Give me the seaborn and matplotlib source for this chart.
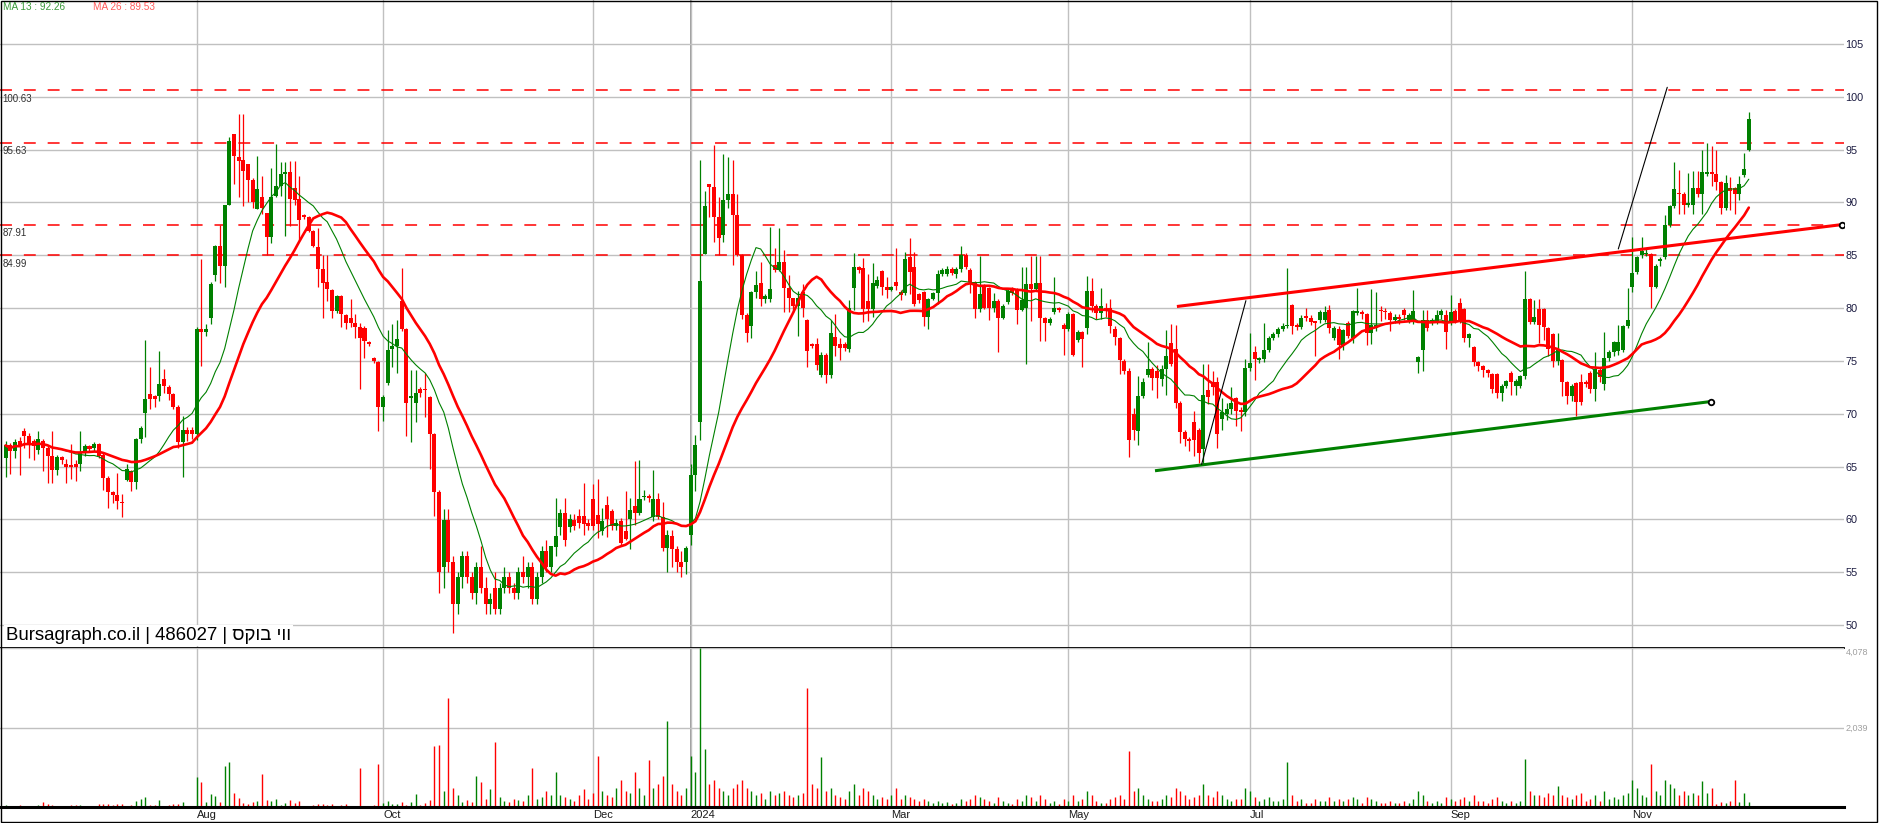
"""
    daily candles for 486027 with ma13 / ma26, trend lines and volume
"""
import matplotlib
matplotlib.use('Agg')
import matplotlib.pyplot as plt
import numpy as np
import pandas as pd
import seaborn as sns
from matplotlib.patches import Rectangle

## bar values, one entry per trading day
opens = [
    65.8, 67.0, 66.5, 67.4, 68.4, 67.9, 67.4, 66.6, 67.4, 66.8,
    66.0, 64.7, 65.9, 65.2, 65.1, 65.2, 65.2, 66.3, 66.9, 66.8,
    67.1, 66.1, 63.9, 62.6, 62.3, 61.6, 63.7, 64.6, 63.5, 67.6,
    70.1, 71.9, 71.7, 71.7, 73.3, 72.5, 71.9, 70.6, 67.3, 68.5,
    68.5, 68.1, 78.0, 77.7, 79.1, 83.1, 85.9, 84.0, 89.8, 96.5,
    94.3, 94.0, 93.6, 92.1, 89.4, 90.5, 89.0, 86.7, 90.6, 91.6,
    92.7, 92.9, 91.4, 90.3, 88.8, 88.6, 87.3, 85.8, 83.7, 82.5,
    81.7, 79.7, 81.1, 79.3, 79.1, 78.6, 78.2, 78.1, 76.8, 75.3,
    74.9, 70.6, 72.9, 76.1, 76.4, 80.7, 78.0, 71.5, 71.0, 72.3,
    72.3, 71.6, 68.1, 62.6, 55.5, 59.9, 56.0, 52.0, 54.5, 56.5,
    54.5, 53.0, 55.5, 53.5, 52.0, 53.5, 51.5, 53.5, 54.5, 53.5,
    53.0, 55.0, 54.5, 55.5, 52.5, 54.5, 57.0, 55.5, 57.4, 59.3,
    60.6, 59.3, 59.9, 60.3, 60.3, 59.7, 61.9, 60.4, 58.9, 61.4,
    60.8, 59.4, 59.8, 58.9, 60.0, 61.3, 60.6, 62.1, 62.2, 60.2,
    61.9, 60.2, 57.3, 58.4, 57.2, 56.0, 56.0, 58.5, 64.2, 69.2,
    85.1, 91.7, 91.5, 88.6, 86.9, 90.2, 90.8, 88.8, 85.0, 79.3,
    78.3, 81.5, 82.4, 80.9, 80.9, 84.1, 83.6, 84.4, 81.9, 81.0,
    80.2, 81.5, 78.9, 76.6, 76.6, 73.7, 75.6, 73.7, 77.3, 76.6,
    76.6, 76.1, 81.9, 83.9, 83.8, 80.7, 79.9, 82.1, 83.5, 82.0,
    81.7, 82.5, 81.5, 81.4, 84.8, 83.9, 81.3, 81.5, 79.2, 80.9,
    81.4, 83.2, 83.2, 83.7, 83.2, 83.7, 85.0, 83.6, 82.5, 79.9,
    82.1, 81.9, 80.0, 80.7, 79.1, 80.6, 81.8, 81.8, 79.8, 80.0,
    82.3, 81.8, 82.4, 79.1, 78.6, 79.6, 80.0, 78.4, 78.0, 79.4,
    77.0, 77.7, 78.1, 81.6, 80.2, 79.5, 80.0, 80.0, 78.0, 77.2,
    75.0, 74.0, 70.0, 68.4, 71.7, 73.7, 74.2, 74.0, 73.3, 74.2,
    76.7, 76.1, 71.0, 68.3, 67.6, 69.2, 68.5, 66.7, 72.2, 73.0,
    73.0, 69.5, 70.0, 70.4, 71.5, 70.3, 70.2, 74.3, 75.8, 75.1,
    75.2, 76.0, 77.2, 77.5, 78.0, 78.3, 80.3, 78.4, 78.2, 79.2,
    79.1, 78.7, 78.9, 78.9, 79.8, 77.2, 78.0, 76.5, 78.6, 77.2,
    79.5, 79.6, 79.4, 77.6, 78.1, 79.8, 79.7, 79.5, 78.9, 79.2,
    79.8, 78.9, 78.8, 74.9, 76.0, 78.9, 78.6, 78.7, 79.3, 79.3,
    78.6, 79.7, 80.5, 79.9, 77.2, 76.3, 74.9, 74.5, 74.1, 73.8,
    73.8, 72.0, 72.6, 73.9, 72.6, 72.6, 73.6, 80.9, 78.7, 79.9,
    79.9, 78.1, 77.5, 75.0, 75.1, 73.0, 71.7, 72.9, 73.0, 73.0,
    73.9, 72.3, 74.1, 72.8, 75.3, 75.8, 75.9, 76.0, 78.3, 82.0,
    83.4, 85.0, 85.1, 85.1, 82.0, 84.5, 84.8, 87.9, 89.7, 90.9,
    90.8, 89.8, 89.8, 91.4, 90.8, 92.7, 92.9, 92.7, 91.9, 89.5,
    91.4, 91.4, 90.8, 92.6, 95.0]
highs = [
    67.4, 67.2, 67.6, 67.8, 68.6, 68.2, 67.6, 68.4, 67.6, 67.0,
    68.4, 66.1, 66.0, 65.7, 67.1, 65.6, 68.4, 67.1, 67.0, 67.3,
    67.2, 66.3, 64.1, 62.7, 64.4, 62.4, 65.2, 64.7, 67.7, 68.8,
    77.0, 74.4, 71.8, 75.9, 74.2, 72.7, 72.0, 70.8, 69.8, 68.7,
    68.7, 78.2, 84.6, 78.5, 82.5, 86.0, 87.9, 89.8, 96.2, 96.5,
    98.4, 98.4, 93.6, 92.3, 94.4, 92.5, 89.0, 93.3, 95.5, 93.8,
    93.8, 93.9, 93.9, 92.5, 88.9, 88.7, 87.4, 87.6, 85.0, 85.0,
    81.8, 81.2, 81.2, 79.4, 80.9, 79.4, 78.6, 78.3, 76.9, 75.4,
    75.0, 71.8, 77.9, 78.5, 78.9, 83.8, 78.1, 74.1, 74.1, 72.5,
    73.9, 71.7, 68.2, 62.8, 61.0, 61.0, 56.5, 55.0, 57.0, 57.0,
    55.0, 56.0, 57.5, 54.5, 53.0, 55.0, 54.0, 55.5, 55.0, 54.0,
    55.5, 56.5, 56.0, 56.0, 55.0, 57.5, 58.0, 57.5, 62.0, 61.0,
    62.0, 60.5, 60.5, 61.0, 63.4, 60.0, 63.3, 63.8, 61.1, 62.2,
    61.0, 60.0, 60.1, 62.7, 62.0, 65.5, 65.6, 62.8, 62.4, 64.7,
    62.5, 61.6, 59.0, 59.0, 57.5, 57.0, 57.5, 65.2, 68.0, 94.0,
    91.1, 91.7, 95.4, 90.5, 94.6, 94.3, 94.0, 90.8, 85.1, 79.5,
    81.6, 83.5, 84.4, 81.3, 87.7, 85.7, 87.6, 85.5, 83.1, 81.0,
    81.6, 82.3, 79.0, 76.7, 77.2, 75.8, 75.7, 78.9, 79.4, 77.2,
    76.8, 80.8, 85.2, 84.0, 84.7, 83.2, 84.3, 83.0, 83.6, 82.9,
    82.1, 85.7, 81.7, 85.3, 86.6, 85.3, 81.4, 81.6, 81.0, 81.5,
    83.6, 83.8, 84.0, 83.9, 83.9, 85.9, 85.2, 83.8, 82.6, 84.9,
    82.3, 82.0, 81.4, 80.9, 80.4, 81.8, 82.0, 81.9, 83.9, 83.9,
    84.9, 84.9, 84.9, 79.2, 79.2, 82.9, 80.1, 78.6, 79.6, 79.5,
    77.9, 77.8, 83.0, 82.8, 80.4, 81.9, 80.5, 80.9, 78.3, 77.3,
    75.2, 74.3, 70.5, 73.6, 73.4, 76.8, 74.4, 74.6, 74.6, 77.9,
    78.5, 78.4, 71.2, 68.5, 67.8, 70.3, 68.6, 74.7, 74.7, 74.0,
    73.5, 71.5, 71.0, 72.5, 71.6, 70.6, 75.2, 77.6, 76.4, 75.4,
    78.6, 77.4, 77.7, 78.2, 78.6, 83.8, 80.4, 78.6, 79.3, 80.0,
    79.3, 78.8, 79.8, 80.2, 80.3, 78.3, 78.3, 78.0, 78.8, 79.8,
    81.9, 79.8, 79.5, 81.8, 81.5, 80.2, 80.0, 79.7, 79.4, 79.4,
    80.0, 79.5, 81.7, 75.5, 79.8, 79.8, 79.1, 79.8, 79.9, 79.8,
    81.2, 79.9, 81.0, 80.0, 77.6, 76.4, 75.0, 74.6, 74.2, 73.9,
    73.9, 72.8, 73.2, 74.0, 73.3, 73.7, 83.5, 81.0, 80.8, 80.9,
    80.0, 78.2, 77.6, 77.6, 75.2, 73.1, 72.8, 73.0, 73.8, 73.2,
    74.0, 75.8, 74.3, 77.7, 76.0, 76.9, 78.4, 78.4, 81.9, 86.7,
    84.9, 86.7, 85.6, 85.2, 84.2, 84.8, 88.8, 89.8, 93.8, 93.1,
    91.0, 92.8, 93.0, 93.0, 95.0, 95.6, 95.3, 95.0, 92.0, 92.6,
    92.4, 91.5, 92.5, 94.7, 98.6]
lows = [
    64.0, 64.3, 65.8, 64.2, 66.8, 65.8, 65.6, 66.2, 64.6, 63.4,
    63.4, 64.2, 65.2, 63.4, 63.8, 63.6, 64.6, 66.0, 66.5, 66.5,
    65.8, 62.8, 61.1, 61.5, 61.0, 60.2, 63.6, 62.7, 62.9, 67.2,
    67.8, 70.4, 70.6, 71.2, 72.0, 71.3, 70.4, 66.8, 64.0, 67.4,
    67.6, 67.5, 74.5, 77.4, 78.5, 82.6, 82.4, 82.0, 89.8, 91.7,
    90.5, 89.7, 90.0, 89.5, 89.4, 88.9, 85.0, 86.2, 90.5, 90.6,
    86.8, 87.8, 89.8, 86.4, 88.4, 87.2, 85.8, 82.0, 79.1, 80.7,
    79.1, 79.5, 78.2, 78.0, 78.2, 77.2, 72.3, 75.3, 76.4, 74.8,
    68.4, 69.3, 72.7, 74.4, 73.9, 77.8, 67.9, 67.3, 69.2, 71.6,
    69.7, 64.8, 60.3, 53.0, 53.5, 55.0, 49.2, 51.0, 53.5, 54.0,
    52.5, 52.0, 53.0, 51.0, 51.0, 51.0, 51.0, 53.0, 53.0, 52.5,
    52.5, 54.0, 53.5, 52.0, 52.0, 54.0, 55.0, 55.0, 56.5, 58.5,
    57.5, 58.8, 59.0, 59.2, 58.5, 59.0, 59.0, 58.2, 58.5, 58.3,
    59.0, 59.0, 57.5, 58.0, 57.2, 59.5, 60.4, 61.8, 61.6, 59.8,
    60.0, 57.0, 55.0, 55.5, 55.0, 54.5, 54.8, 57.6, 62.7, 67.5,
    85.1, 88.6, 86.3, 85.0, 86.3, 89.5, 84.1, 84.9, 79.0, 76.8,
    77.2, 81.0, 80.2, 80.5, 80.6, 83.4, 83.5, 79.6, 79.6, 79.6,
    77.4, 79.2, 74.4, 76.2, 74.1, 73.5, 72.9, 73.4, 75.5, 75.1,
    75.9, 75.8, 79.8, 83.3, 78.7, 78.8, 79.2, 81.9, 81.2, 81.0,
    81.6, 81.7, 80.8, 81.2, 81.3, 80.2, 80.5, 78.3, 78.0, 80.8,
    80.4, 83.0, 83.0, 83.1, 82.8, 83.4, 83.7, 81.4, 79.1, 79.6,
    79.9, 78.9, 79.6, 75.8, 79.0, 80.4, 81.2, 78.5, 79.7, 74.7,
    78.8, 81.6, 76.9, 76.9, 78.4, 79.4, 79.6, 75.6, 77.8, 75.5,
    76.8, 74.4, 77.5, 79.6, 79.0, 79.0, 79.2, 77.6, 76.5, 73.8,
    73.8, 65.9, 67.5, 67.0, 71.5, 73.5, 72.2, 71.5, 72.6, 71.8,
    74.5, 70.5, 67.2, 66.9, 66.5, 66.0, 65.3, 65.2, 70.9, 71.8,
    66.8, 68.5, 69.4, 70.0, 68.8, 68.4, 69.8, 74.0, 73.2, 74.8,
    74.9, 75.8, 77.0, 77.3, 77.8, 78.1, 77.5, 77.9, 78.0, 78.8,
    78.4, 75.5, 78.6, 78.7, 77.6, 77.0, 75.2, 76.0, 77.2, 76.7,
    79.3, 79.0, 76.5, 76.6, 77.8, 78.8, 79.0, 77.8, 78.6, 78.5,
    78.9, 78.6, 78.5, 73.9, 74.0, 77.8, 78.4, 78.5, 79.0, 76.1,
    78.4, 78.6, 78.6, 76.8, 76.3, 74.5, 74.0, 73.5, 73.5, 72.0,
    71.5, 71.2, 72.4, 71.8, 71.8, 72.4, 73.3, 78.5, 78.5, 76.7,
    77.0, 75.5, 74.4, 74.6, 71.7, 70.9, 71.2, 69.8, 70.8, 72.5,
    72.0, 71.2, 73.0, 72.2, 75.0, 75.5, 75.6, 75.8, 78.1, 81.5,
    83.2, 84.7, 84.9, 80.0, 81.9, 84.0, 84.6, 87.7, 89.5, 88.9,
    88.9, 89.6, 88.9, 90.5, 88.9, 92.5, 91.6, 91.2, 88.9, 89.3,
    89.3, 88.9, 90.2, 92.4, 94.9]
closes = [
    67.0, 66.5, 67.3, 66.9, 67.9, 67.2, 66.9, 67.6, 66.8, 66.0,
    64.7, 65.9, 65.6, 65.0, 65.0, 65.0, 66.3, 66.9, 66.7, 67.1,
    66.0, 63.9, 62.6, 62.3, 61.7, 61.5, 64.8, 63.5, 67.6, 68.6,
    71.4, 71.4, 71.4, 72.8, 72.6, 71.9, 70.6, 67.3, 68.5, 68.1,
    68.1, 78.0, 77.7, 78.0, 82.3, 85.9, 84.0, 89.8, 95.8, 94.4,
    93.9, 93.0, 92.1, 90.0, 91.3, 89.5, 86.7, 90.5, 91.6, 92.7,
    92.9, 90.3, 90.2, 88.3, 88.6, 87.3, 85.9, 83.7, 82.4, 81.8,
    79.7, 81.1, 79.4, 78.6, 78.6, 78.2, 77.2, 76.9, 76.6, 75.0,
    70.6, 71.6, 76.0, 76.4, 77.1, 78.0, 71.0, 71.7, 72.0, 72.0,
    72.2, 68.1, 62.6, 55.0, 59.9, 56.0, 52.0, 54.5, 56.5, 54.5,
    53.0, 55.5, 53.5, 52.0, 52.5, 51.5, 53.5, 54.5, 53.5, 53.0,
    55.0, 54.5, 55.5, 52.5, 54.5, 57.0, 55.5, 57.5, 58.4, 60.6,
    58.0, 60.0, 59.4, 59.7, 59.6, 59.4, 59.4, 59.6, 59.8, 60.0,
    59.4, 59.7, 57.8, 58.1, 60.9, 60.6, 61.9, 62.2, 62.0, 61.9,
    60.2, 57.3, 58.5, 57.2, 56.0, 55.5, 57.3, 64.2, 67.0, 82.6,
    89.7, 91.5, 88.6, 86.6, 90.2, 90.8, 88.8, 85.0, 79.3, 77.6,
    81.5, 82.2, 80.9, 81.1, 81.8, 83.6, 84.4, 81.9, 81.0, 80.2,
    81.0, 80.0, 75.9, 76.4, 74.6, 75.6, 73.7, 77.6, 76.4, 76.2,
    76.2, 80.0, 83.9, 83.6, 79.9, 79.9, 82.4, 82.7, 82.0, 81.7,
    82.0, 82.1, 81.2, 84.6, 83.4, 80.4, 80.8, 79.2, 80.9, 81.4,
    83.2, 83.6, 83.7, 83.3, 83.7, 85.0, 83.9, 82.5, 79.9, 81.3,
    80.0, 80.0, 80.7, 79.1, 80.2, 81.6, 81.4, 79.8, 80.8, 82.3,
    81.8, 82.4, 79.1, 78.6, 79.0, 80.0, 79.8, 78.0, 79.4, 75.6,
    77.7, 77.1, 81.6, 80.2, 79.5, 80.2, 79.7, 78.3, 77.3, 75.1,
    74.0, 67.5, 68.5, 71.7, 73.0, 74.2, 73.4, 73.4, 74.2, 75.5,
    74.7, 71.0, 68.3, 67.6, 67.4, 67.5, 66.3, 71.8, 71.6, 72.5,
    68.1, 70.2, 70.4, 71.0, 70.3, 70.2, 74.3, 74.8, 75.2, 75.2,
    76.0, 77.2, 77.5, 78.0, 78.3, 78.4, 78.3, 78.2, 79.1, 79.1,
    78.7, 78.6, 79.6, 79.6, 78.1, 78.1, 76.5, 77.9, 77.4, 79.7,
    79.7, 79.4, 77.6, 78.4, 78.4, 79.7, 79.6, 78.9, 79.2, 79.0,
    79.3, 79.3, 79.7, 75.4, 78.9, 78.1, 78.9, 79.3, 79.7, 77.7,
    79.6, 78.8, 78.9, 77.2, 77.5, 74.9, 74.5, 74.1, 73.9, 72.3,
    72.0, 72.6, 73.1, 73.0, 73.1, 73.6, 80.9, 78.7, 79.2, 78.4,
    78.2, 76.1, 75.0, 76.1, 73.0, 71.7, 72.6, 71.1, 71.1, 72.8,
    72.3, 74.2, 73.5, 75.3, 75.8, 76.8, 76.8, 78.3, 78.9, 83.3,
    84.8, 85.4, 85.2, 82.0, 84.0, 84.6, 87.9, 89.7, 91.3, 90.8,
    89.8, 89.9, 91.4, 90.8, 92.9, 92.9, 92.7, 91.9, 89.5, 91.8,
    91.1, 90.8, 91.7, 93.2, 97.9]
volumes = [
    59, 34, 34, 59, 34, 34, 34, 59, 118, 84,
    59, 34, 34, 20, 59, 59, 59, 10, 10, 10,
    67, 84, 84, 59, 84, 84, 34, 59, 152, 211,
    261, 59, 59, 185, 34, 59, 84, 84, 135, 34,
    20, 767, 640, 135, 337, 287, 118, 1045, 1146, 362,
    236, 110, 84, 135, 160, 850, 185, 152, 211, 59,
    110, 185, 110, 160, 20, 34, 59, 84, 84, 59,
    84, 20, 59, 84, 34, 17, 995, 34, 34, 59,
    1096, 101, 152, 84, 84, 135, 59, 135, 337, 59,
    110, 185, 1576, 1600, 413, 2790, 489, 312, 135, 185,
    135, 790, 640, 210, 464, 1677, 261, 150, 120, 200,
    180, 150, 300, 1000, 200, 250, 400, 300, 900, 300,
    250, 200, 150, 300, 450, 200, 350, 1300, 400, 300,
    250, 500, 700, 400, 350, 900, 500, 300, 1200, 500,
    600, 800, 2200, 600, 400, 300, 500, 1300, 900, 4078,
    1500, 600, 700, 500, 400, 300, 500, 600, 700, 500,
    400, 300, 350, 200, 400, 300, 350, 400, 300, 250,
    300, 350, 3050, 600, 500, 1290, 400, 500, 300, 250,
    200, 400, 600, 300, 500, 400, 300, 200, 250, 200,
    300, 500, 200, 300, 250, 200, 150, 200, 150, 100,
    150, 100, 120, 80, 100, 200, 150, 200, 300, 250,
    200, 150, 100, 250, 150, 100, 80, 200, 150, 300,
    250, 150, 300, 200, 100, 150, 80, 200, 150, 300,
    150, 200, 400, 300, 150, 100, 100, 200, 250, 300,
    200, 1440, 400, 500, 300, 200, 150, 150, 200, 300,
    250, 500, 400, 300, 200, 250, 300, 600, 300, 250,
    400, 300, 200, 150, 200, 200, 500, 400, 250, 150,
    200, 250, 150, 150, 200, 1160, 300, 150, 200, 100,
    100, 200, 150, 150, 250, 150, 200, 150, 200, 250,
    200, 100, 250, 200, 150, 100, 100, 150, 100, 100,
    150, 100, 200, 400, 300, 150, 100, 150, 100, 250,
    200, 150, 200, 250, 150, 300, 150, 150, 100, 200,
    250, 150, 100, 150, 100, 150, 1240, 400, 300, 300,
    250, 350, 300, 530, 300, 250, 200, 300, 350, 150,
    200, 300, 150, 400, 200, 250, 200, 300, 350, 700,
    500, 300, 250, 1100, 400, 300, 700, 600, 500, 300,
    400, 300, 350, 300, 666, 354, 497, 80, 130, 100,
    150, 690, 130, 354, 140]

month_labels = ['Aug', 'Oct', 'Dec', '2024', 'Mar', 'May', 'Jul', 'Sep', 'Nov']
month_starts = [41, 81, 126, 147, 190, 228, 267, 310, 349]   # bar index of first trading day
level_prices = [100.63, 95.63, 87.91, 84.99]
price_ticks = [50, 55, 60, 65, 70, 75, 80, 85, 90, 95, 100, 105]
vol_ticks = [2039, 4078]
vol_tick_labels = ['2,039', '4,078']

# hand drawn lines on the chart: (bar, price) at both ends
trend_red = ([251.3, 393.9], [80.15, 87.9])
trend_green = ([246.6, 365.8], [64.6, 71.15])
trend_black_1 = ([256.6, 266.1], [65.2, 80.7])
trend_black_2 = ([346.0, 356.5], [85.6, 100.9])

ma13_text = 'MA 13 : 92.26'
ma26_text = 'MA 26 : 89.53'
title_he = 'ווי בוקס'
title_text = 'Bursagraph.co.il | 486027 | ' + title_he[::-1]   # matplotlib has no bidi, flip for display

GREEN = '#008000'
RED = '#ff0000'
GRID = '#c0c0c0'

df = pd.DataFrame({'open': opens, 'high': highs, 'low': lows, 'close': closes, 'volume': volumes})
df['bar'] = np.arange(len(df))
df['ma13'] = df['close'].rolling(13, min_periods=1).mean()
df['ma26'] = df['close'].rolling(26, min_periods=1).mean()
up = df['close'] >= df['open']
colors = np.where(up, GREEN, RED)

sns.set_style('white')
plt.rcParams['font.family'] = ['Liberation Sans', 'DejaVu Sans']

W, H = 1880, 823
fig = plt.figure(figsize=(W / 100, H / 100), dpi=100)
ax = fig.add_axes([0, (H - 648) / H, 1844 / W, 648 / H])
axv = fig.add_axes([0, (H - 807) / H, 1844 / W, (807 - 648) / H])

xlim = (-5.6 / 4.661, (1844 - 5.6) / 4.661)

## price panel
ax.set_xlim(*xlim)
ax.set_ylim(47.82, 109.165)
ax.set_xticks(month_starts)
ax.set_yticks(price_ticks)
ax.yaxis.tick_right()
ax.tick_params(axis='y', length=0, pad=1, labelsize=7.8, labelcolor='#1a1a40')
ax.tick_params(axis='x', length=0, labelbottom=False)
ax.grid(True, color=GRID, linewidth=1, zorder=0)
ax.set_axisbelow(True)
ax.axvline(month_starts[3], color='#808080', linewidth=1.1, zorder=0.5)
for s in ['top', 'left', 'right']:
    ax.spines[s].set_visible(False)
ax.spines['bottom'].set_color('black')
ax.spines['bottom'].set_linewidth(1.3)

for lv in level_prices:
    ax.axhline(lv, color=RED, linewidth=1.1, dashes=(7.8, 7.8), zorder=1)
    ax.annotate('%.2f' % lv, xy=(0, lv), xycoords=('axes fraction', 'data'),
                xytext=(2, -2.5), textcoords='offset points', va='top', ha='left',
                fontsize=7, color='#303030', zorder=6)

# candles
body_low = np.minimum(df['open'], df['close'])
body_h = np.maximum((df['close'] - df['open']).abs(), 0.14)
ax.vlines(df['bar'], df['low'], df['high'], colors=colors, linewidth=0.9, zorder=2)
ax.bar(df['bar'], body_h, bottom=body_low, width=0.86, color=colors, linewidth=0, zorder=3)

sns.lineplot(data=df, x='bar', y='ma13', ax=ax, color=GREEN, linewidth=0.8, legend=False, zorder=4)
sns.lineplot(data=df, x='bar', y='ma26', ax=ax, color=RED, linewidth=1.9, legend=False, zorder=4)
ax.set_xlabel('')
ax.set_ylabel('')

ax.plot(*trend_red, color=RED, linewidth=2.2, zorder=5, solid_capstyle='butt')
ax.plot(*trend_green, color=GREEN, linewidth=2.2, zorder=5, solid_capstyle='butt')
ax.plot(*trend_black_1, color='black', linewidth=0.8, zorder=5)
ax.plot(*trend_black_2, color='black', linewidth=0.8, zorder=5)
ax.plot(trend_red[0][1], trend_red[1][1], 'o', ms=4, mfc='white', mec='black', mew=1.3, zorder=6)
ax.plot(trend_green[0][1], trend_green[1][1], 'o', ms=4, mfc='white', mec='black', mew=1.3, zorder=6)

## volume panel
axv.set_xlim(*xlim)
axv.set_ylim(0, 4078)
axv.vlines(df['bar'], 0, df['volume'], colors=colors, linewidth=1.0, zorder=2)
axv.set_xticks(month_starts)
axv.set_xticklabels(month_labels, ha='left')
axv.tick_params(axis='x', length=0, pad=2, labelsize=8, labelcolor='#1a1a1a')
axv.set_yticks(vol_ticks)
axv.set_yticklabels(vol_tick_labels)
axv.yaxis.tick_right()
axv.tick_params(axis='y', length=0, pad=1, labelsize=6.5, labelcolor='#a0a0a0')
axv.get_yticklabels()[1].set_va('top')
axv.grid(True, color=GRID, linewidth=1, zorder=0)
axv.set_axisbelow(True)
axv.axvline(month_starts[3], color='#808080', linewidth=1.1, zorder=0.5)
for s in ['top', 'left', 'right']:
    axv.spines[s].set_visible(False)
axv.spines['bottom'].set_color('black')
axv.spines['bottom'].set_linewidth(2.2)

## texts
fig.text(3 / W, 1 - 7 / H, ma13_text, fontsize=7.2, color='#3a9a3a', va='center', ha='left')
fig.text(93 / W, 1 - 7 / H, ma26_text, fontsize=7.2, color='#ff5a5a', va='center', ha='left')
fig.text(6 / W, (H - 640) / H, title_text, fontsize=13.4, color='black', va='baseline', ha='left',
         bbox=dict(boxstyle='square,pad=0.12', facecolor='white', edgecolor='none'), zorder=10)

fig.patches.append(Rectangle((0.5 / W, 1.0 / H), 1876 / W, (H - 1.5) / H, transform=fig.transFigure,
                             fill=False, edgecolor='black', linewidth=1.0))

fig.savefig('out.png', dpi=100)
